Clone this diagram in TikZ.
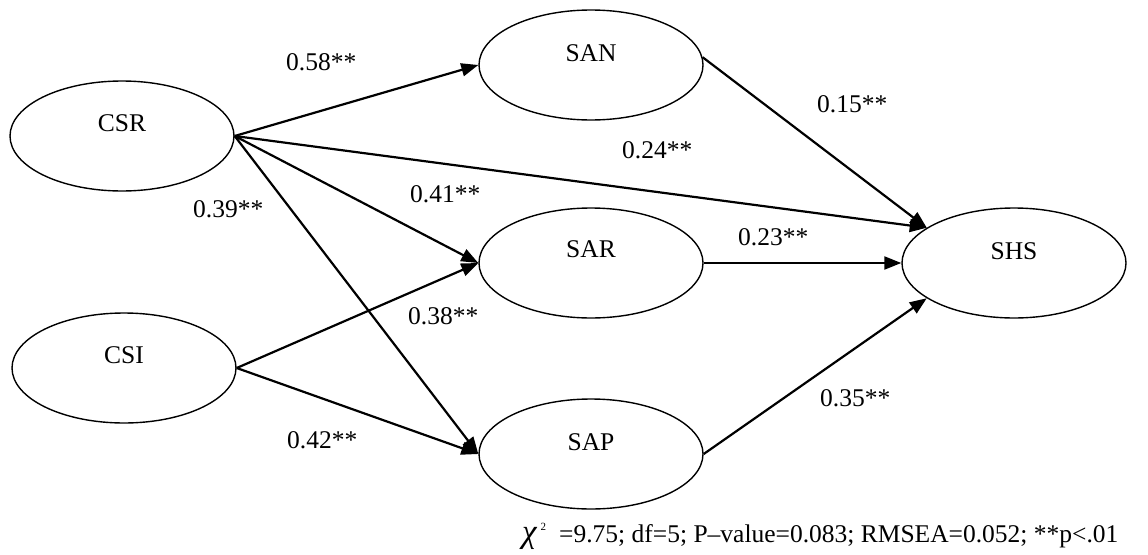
\documentclass[tikz,border=0pt]{standalone}
\usepackage{fontspec}
\setmainfont{Liberation Serif}
\usetikzlibrary{arrows.meta,shapes.geometric}
\begin{document}
\begin{tikzpicture}[x=1pt,y=-1pt,
  latent/.style={ellipse,draw,line width=1.4pt,minimum width=224pt,minimum height=110pt,inner sep=0pt},
  lab/.style={inner sep=0pt,font=\fontsize{25.5}{30}\selectfont},
  arr/.style={line width=2.2pt,-{Triangle[length=17pt,width=13pt]}},
  coef/.style={anchor=base west,inner sep=0pt,font=\fontsize{25.5}{30}\selectfont}
]
\useasboundingbox (0,0) rectangle (1148,554);
% latent variables
\node[latent] (CSR) at (122,136) {};
\node[latent] (CSI) at (124,368) {};
\node[latent] (SAN) at (591,65) {};
\node[latent] (SAR) at (591,263) {};
\node[latent] (SAP) at (591,454) {};
\node[latent] (SHS) at (1014,263) {};
\node[lab] (tCSR) at (122,123) {CSR};
\node[lab] (tCSI) at (124,355) {CSI};
\node[lab] (tSAN) at (591,53) {SAN};
\node[lab] (tSAR) at (591,249) {SAR};
\node[lab] (tSAP) at (591,442) {SAP};
\node[lab] (tSHS) at (1014,251) {SHS};
% paths
\draw[arr] (CSR.east) -- (SAN.west);
\draw[arr] (CSR.east) -- (SHS.158);
\draw[arr] (CSR.east) -- (SAR.west);
\draw[arr] (CSR.east) -- (SAP.west);
\draw[arr] (CSI.east) -- (SAR.west);
\draw[arr] (CSI.east) -- (SAP.west);
\draw[arr] (SAN.4) -- (SHS.158);
\draw[arr] (SAR.east) -- (SHS.west);
\draw[arr] (SAP.east) -- (SHS.202);
% coefficients
\node[coef] (c58) at (286,70) {0.58**};
\node[coef] (c15) at (817,112) {0.15**};
\node[coef] (c24) at (622,158) {0.24**};
\node[coef] (c23) at (738,245) {0.23**};
\node[coef] (c41) at (410,202) {0.41**};
\node[coef] (c39) at (193,217) {0.39**};
\node[coef] (c38) at (408,324) {0.38**};
\node[coef] (c42) at (287,448) {0.42**};
\node[coef] (c35) at (820,406) {0.35**};
% fit statistics
\node[coef] (fit) at (522,542) {{\fontsize{33}{33}\selectfont\itshape χ}\hspace{4pt}\raisebox{12pt}{\fontsize{11}{11}\selectfont 2}\hspace{13pt}=9.75; df=5; P–value=0.083; RMSEA=0.052; **p<.01};
\end{tikzpicture}
\end{document}
